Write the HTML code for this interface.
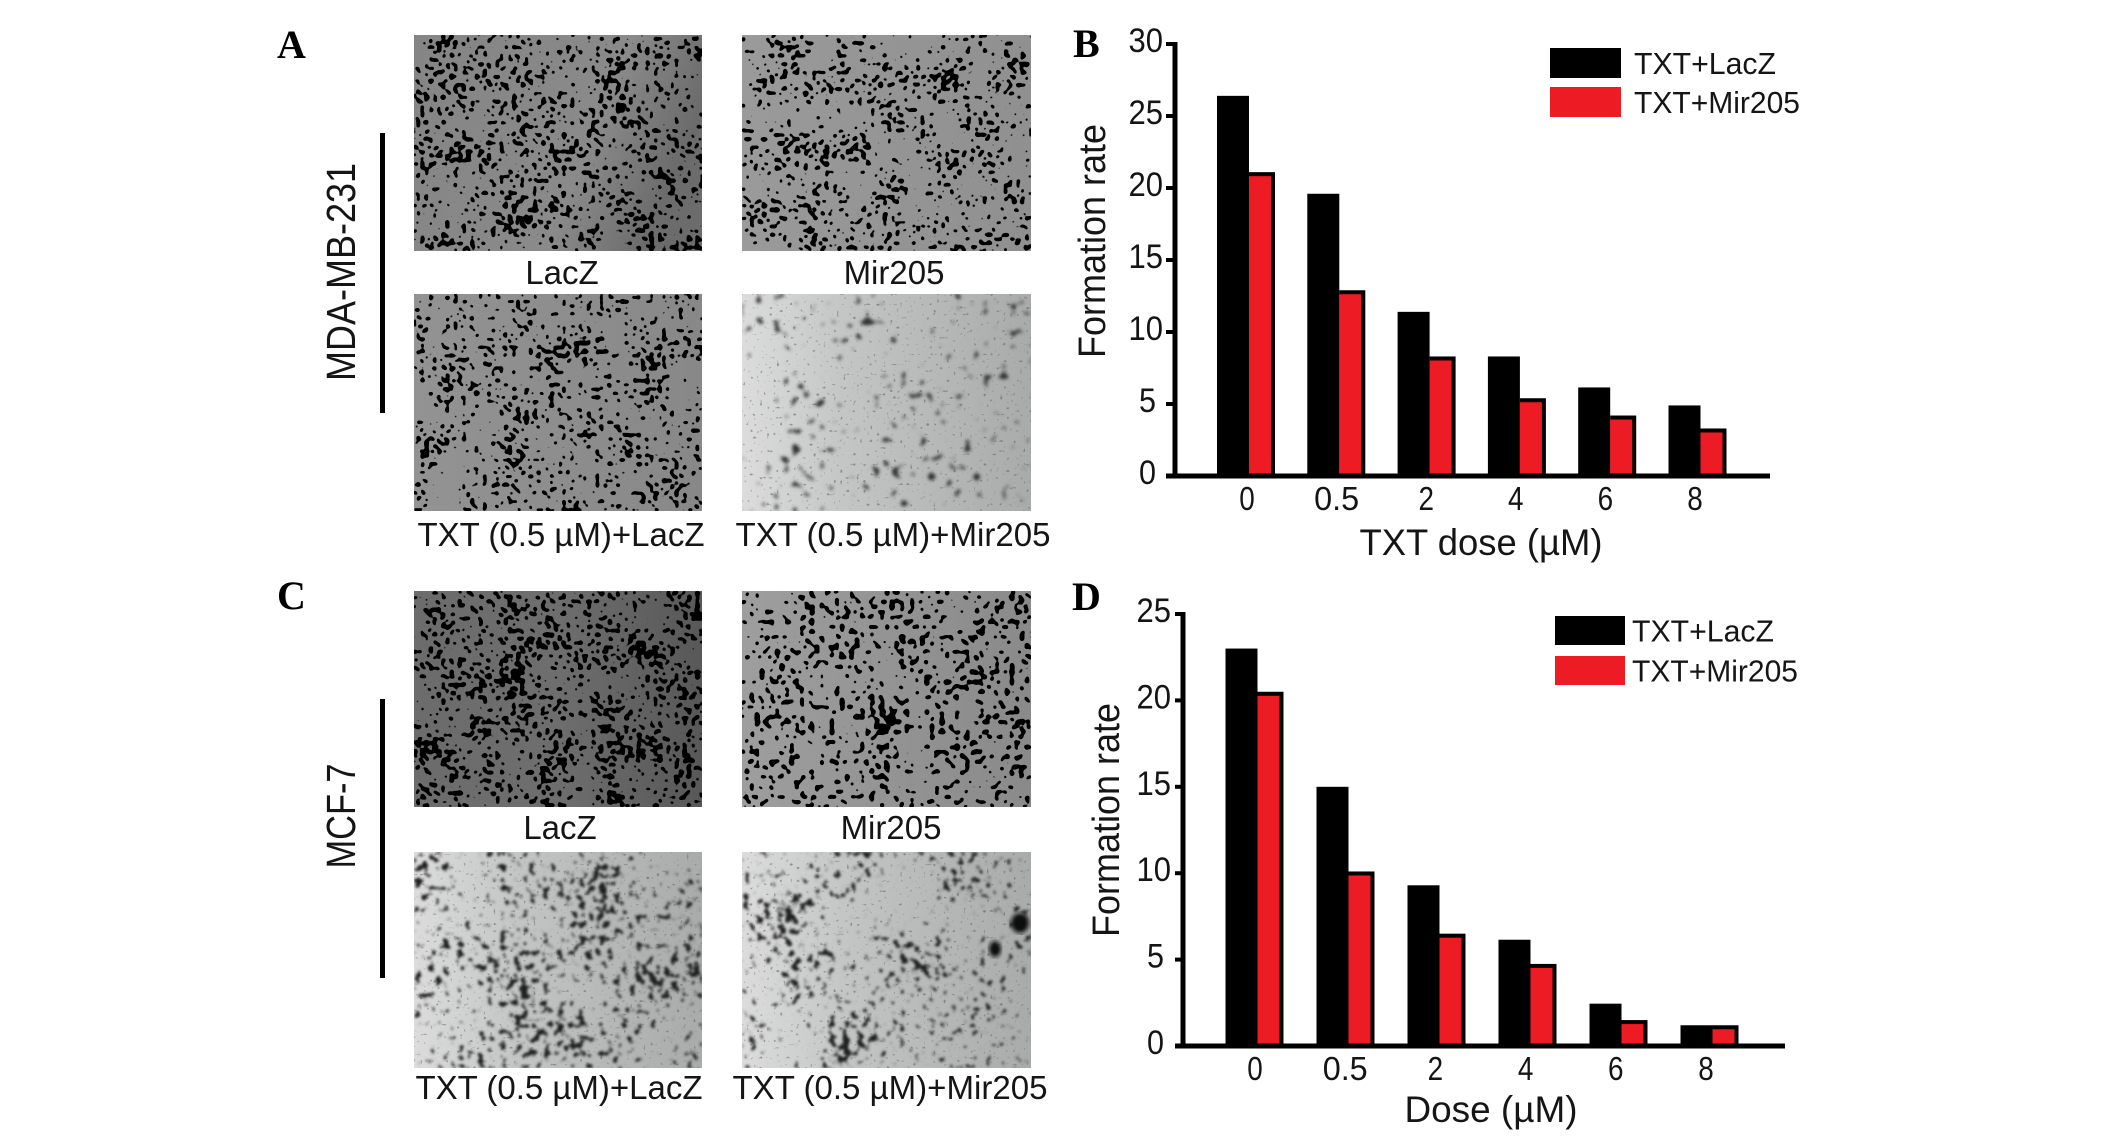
<!DOCTYPE html>
<html lang="en">
<head>
<meta charset="utf-8">
<title>Formation rate figure</title>
<style>
html,body{margin:0;padding:0;background:#fff;}
svg{display:block;}
text{font-family:"Liberation Sans",sans-serif;fill:#151515;}
.letter{font-family:"Liberation Serif",serif;font-weight:bold;font-size:40px;fill:#000;}
.cap{font-size:33px;text-anchor:middle;}
</style>
</head>
<body>
<svg id="figure" xmlns="http://www.w3.org/2000/svg" width="2126" height="1139" viewBox="0 0 2126 1139">
<defs>
  <linearGradient id="gA1" x1="0" x2="1" y1="0" y2="0.3"><stop offset="0" stop-color="#858585"/><stop offset="0.7" stop-color="#8a8a8a"/><stop offset="1" stop-color="#6c6c6c"/></linearGradient>
  <linearGradient id="gA2" x1="0" x2="1"><stop offset="0" stop-color="#9a9a9a"/><stop offset="1" stop-color="#909090"/></linearGradient>
  <linearGradient id="gA3" x1="0" x2="1"><stop offset="0" stop-color="#939393"/><stop offset="1" stop-color="#888888"/></linearGradient>
  <linearGradient id="gLight" x1="0" x2="1"><stop offset="0" stop-color="#dcdcdc"/><stop offset="0.35" stop-color="#c4c6c6"/><stop offset="1" stop-color="#a9abab"/></linearGradient>
  <linearGradient id="gC1" x1="0" x2="1"><stop offset="0" stop-color="#6c6c6c"/><stop offset="0.5" stop-color="#6e6e6e"/><stop offset="1" stop-color="#585858"/></linearGradient>
  <linearGradient id="gC2" x1="0" x2="1"><stop offset="0" stop-color="#9e9e9e"/><stop offset="1" stop-color="#8a8a8a"/></linearGradient>

  <filter id="fA1" x="0" y="0" width="100%" height="100%" color-interpolation-filters="sRGB">
    <feTurbulence type="fractalNoise" baseFrequency="0.24" numOctaves="1" seed="3"/><feColorMatrix values="1 0 0 0 0 1 0 0 0 0 1 0 0 0 0 0 0 0 0 1" result="fine"/>
    <feTurbulence type="fractalNoise" baseFrequency="0.03" numOctaves="2" seed="8"/><feColorMatrix values="1 0 0 0 0 1 0 0 0 0 1 0 0 0 0 0 0 0 0 1" result="coarse"/>
    <feComposite in="fine" in2="coarse" operator="arithmetic" k1="0" k2="0.75" k3="0.25" k4="0"/>
    <feColorMatrix values="0 0 0 0 0 0 0 0 0 0 0 0 0 0 0 22 0 0 0 -12.3"/><feGaussianBlur stdDeviation="1.3"/>
    <feColorMatrix values="0 0 0 0 0 0 0 0 0 0 0 0 0 0 0 0 0 0 10 -2.6"/>
  </filter>
  <filter id="fA2" x="0" y="0" width="100%" height="100%" color-interpolation-filters="sRGB">
    <feTurbulence type="fractalNoise" baseFrequency="0.24" numOctaves="1" seed="11"/><feColorMatrix values="1 0 0 0 0 1 0 0 0 0 1 0 0 0 0 0 0 0 0 1" result="fine"/>
    <feTurbulence type="fractalNoise" baseFrequency="0.03" numOctaves="2" seed="18"/><feColorMatrix values="1 0 0 0 0 1 0 0 0 0 1 0 0 0 0 0 0 0 0 1" result="coarse"/>
    <feComposite in="fine" in2="coarse" operator="arithmetic" k1="0" k2="0.75" k3="0.25" k4="0"/>
    <feColorMatrix values="0 0 0 0 0 0 0 0 0 0 0 0 0 0 0 22 0 0 0 -12.6"/><feGaussianBlur stdDeviation="1.3"/>
    <feColorMatrix values="0 0 0 0 0 0 0 0 0 0 0 0 0 0 0 0 0 0 10 -2.6"/>
  </filter>
  <filter id="fA3" x="0" y="0" width="100%" height="100%" color-interpolation-filters="sRGB">
    <feTurbulence type="fractalNoise" baseFrequency="0.24" numOctaves="1" seed="23"/><feColorMatrix values="1 0 0 0 0 1 0 0 0 0 1 0 0 0 0 0 0 0 0 1" result="fine"/>
    <feTurbulence type="fractalNoise" baseFrequency="0.03" numOctaves="2" seed="28"/><feColorMatrix values="1 0 0 0 0 1 0 0 0 0 1 0 0 0 0 0 0 0 0 1" result="coarse"/>
    <feComposite in="fine" in2="coarse" operator="arithmetic" k1="0" k2="0.75" k3="0.25" k4="0"/>
    <feColorMatrix values="0 0 0 0 0 0 0 0 0 0 0 0 0 0 0 22 0 0 0 -12.7"/><feGaussianBlur stdDeviation="1.3"/>
    <feColorMatrix values="0 0 0 0 0 0 0 0 0 0 0 0 0 0 0 0 0 0 10 -2.6"/>
  </filter>
  <filter id="fC1" x="0" y="0" width="100%" height="100%" color-interpolation-filters="sRGB">
    <feTurbulence type="fractalNoise" baseFrequency="0.24" numOctaves="1" seed="31"/><feColorMatrix values="1 0 0 0 0 1 0 0 0 0 1 0 0 0 0 0 0 0 0 1" result="fine"/>
    <feTurbulence type="fractalNoise" baseFrequency="0.03" numOctaves="2" seed="38"/><feColorMatrix values="1 0 0 0 0 1 0 0 0 0 1 0 0 0 0 0 0 0 0 1" result="coarse"/>
    <feComposite in="fine" in2="coarse" operator="arithmetic" k1="0" k2="0.75" k3="0.25" k4="0"/>
    <feColorMatrix values="0 0 0 0 0 0 0 0 0 0 0 0 0 0 0 22 0 0 0 -12.1"/><feGaussianBlur stdDeviation="1.3"/>
    <feColorMatrix values="0 0 0 0 0 0 0 0 0 0 0 0 0 0 0 0 0 0 10 -2.6"/>
  </filter>
  <filter id="fC2" x="0" y="0" width="100%" height="100%" color-interpolation-filters="sRGB">
    <feTurbulence type="fractalNoise" baseFrequency="0.2" numOctaves="1" seed="41"/><feColorMatrix values="1 0 0 0 0 1 0 0 0 0 1 0 0 0 0 0 0 0 0 1" result="fine"/>
    <feTurbulence type="fractalNoise" baseFrequency="0.03" numOctaves="2" seed="48"/><feColorMatrix values="1 0 0 0 0 1 0 0 0 0 1 0 0 0 0 0 0 0 0 1" result="coarse"/>
    <feComposite in="fine" in2="coarse" operator="arithmetic" k1="0" k2="0.75" k3="0.25" k4="0"/>
    <feColorMatrix values="0 0 0 0 0 0 0 0 0 0 0 0 0 0 0 22 0 0 0 -12.5"/><feGaussianBlur stdDeviation="1.4"/>
    <feColorMatrix values="0 0 0 0 0 0 0 0 0 0 0 0 0 0 0 0 0 0 10 -2.6"/>
  </filter>
  <filter id="fFuzzA" x="0" y="0" width="100%" height="100%" color-interpolation-filters="sRGB">
    <feTurbulence type="fractalNoise" baseFrequency="0.11" numOctaves="1" seed="7"/><feColorMatrix values="1 0 0 0 0 1 0 0 0 0 1 0 0 0 0 0 0 0 0 1" result="fine"/>
    <feTurbulence type="fractalNoise" baseFrequency="0.018" numOctaves="2" seed="9"/><feColorMatrix values="1 0 0 0 0 1 0 0 0 0 1 0 0 0 0 0 0 0 0 1" result="coarse"/>
    <feComposite in="fine" in2="coarse" operator="arithmetic" k1="0" k2="0.75" k3="0.25" k4="0"/>
    <feColorMatrix values="0 0 0 0 0.2 0 0 0 0 0.2 0 0 0 0 0.2 14 0 0 0 -8.6"/><feGaussianBlur stdDeviation="1.6"/>
  </filter>
  <filter id="fFuzzC" x="0" y="0" width="100%" height="100%" color-interpolation-filters="sRGB">
    <feTurbulence type="fractalNoise" baseFrequency="0.14" numOctaves="2" seed="17"/><feColorMatrix values="1 0 0 0 0 1 0 0 0 0 1 0 0 0 0 0 0 0 0 1" result="fine"/>
    <feTurbulence type="fractalNoise" baseFrequency="0.016" numOctaves="2" seed="4"/><feColorMatrix values="1 0 0 0 0 1 0 0 0 0 1 0 0 0 0 0 0 0 0 1" result="coarse"/>
    <feComposite in="fine" in2="coarse" operator="arithmetic" k1="0" k2="0.65" k3="0.35" k4="0"/>
    <feColorMatrix values="0 0 0 0 0.12 0 0 0 0 0.12 0 0 0 0 0.12 14 0 0 0 -8.0"/><feGaussianBlur stdDeviation="1.2"/>
  </filter>
  <filter id="fFuzzD" x="0" y="0" width="100%" height="100%" color-interpolation-filters="sRGB">
    <feTurbulence type="fractalNoise" baseFrequency="0.14" numOctaves="2" seed="29"/><feColorMatrix values="1 0 0 0 0 1 0 0 0 0 1 0 0 0 0 0 0 0 0 1" result="fine"/>
    <feTurbulence type="fractalNoise" baseFrequency="0.016" numOctaves="2" seed="14"/><feColorMatrix values="1 0 0 0 0 1 0 0 0 0 1 0 0 0 0 0 0 0 0 1" result="coarse"/>
    <feComposite in="fine" in2="coarse" operator="arithmetic" k1="0" k2="0.65" k3="0.35" k4="0"/>
    <feColorMatrix values="0 0 0 0 0.12 0 0 0 0 0.12 0 0 0 0 0.12 14 0 0 0 -8.2"/><feGaussianBlur stdDeviation="1.2"/>
  </filter>
  <filter id="fSpeck" x="0" y="0" width="100%" height="100%" color-interpolation-filters="sRGB"><feTurbulence type="fractalNoise" baseFrequency="0.3" numOctaves="1" seed="5"/><feColorMatrix values="0 0 0 0 0.3 0 0 0 0 0.3 0 0 0 0 0.3 12 0 0 0 -8"/></filter>
  <filter id="soft"><feGaussianBlur stdDeviation="2"/></filter>
</defs>

<text class="letter" x="277" y="58">A</text>
<text class="letter" x="1073" y="57">B</text>
<text class="letter" x="277" y="609">C</text>
<text class="letter" x="1072" y="610">D</text>

<rect x="380" y="133" width="5" height="280" fill="#000"/>
<text transform="translate(355,272) rotate(-90)" text-anchor="middle" font-size="41" textLength="218" lengthAdjust="spacingAndGlyphs">MDA-MB-231</text>
<rect x="380" y="699" width="5" height="279" fill="#000"/>
<text transform="translate(355,816) rotate(-90)" text-anchor="middle" font-size="41" textLength="105" lengthAdjust="spacingAndGlyphs">MCF-7</text>

<g>
  <rect x="414" y="35" width="288" height="216" fill="url(#gA1)"/>
  <rect x="414" y="35" width="288" height="216" filter="url(#fA1)"/>
</g>
<g>
  <rect x="742" y="35" width="289" height="216" fill="url(#gA2)"/>
  <rect x="742" y="35" width="289" height="216" filter="url(#fA2)"/>
</g>
<g>
  <rect x="414" y="294" width="288" height="217" fill="url(#gA3)"/>
  <rect x="414" y="294" width="288" height="217" filter="url(#fA3)"/>
</g>
<g>
  <rect x="742" y="294" width="289" height="217" fill="url(#gLight)"/>
  <rect x="742" y="294" width="289" height="217" filter="url(#fFuzzA)"/>
  <rect x="742" y="294" width="289" height="217" filter="url(#fSpeck)" opacity="0.45"/>
</g>
<g>
  <rect x="414" y="591" width="288" height="216" fill="url(#gC1)"/>
  <rect x="414" y="591" width="288" height="216" filter="url(#fC1)"/>
</g>
<g>
  <rect x="742" y="591" width="289" height="216" fill="url(#gC2)"/>
  <rect x="742" y="591" width="289" height="216" filter="url(#fC2)"/>
</g>
<g>
  <rect x="414" y="852" width="288" height="216" fill="url(#gLight)"/>
  <rect x="414" y="852" width="288" height="216" filter="url(#fFuzzC)"/>
  <rect x="414" y="852" width="288" height="216" filter="url(#fSpeck)" opacity="0.45"/>
</g>
<g>
  <rect x="742" y="852" width="289" height="216" fill="url(#gLight)"/>
  <rect x="742" y="852" width="289" height="216" filter="url(#fFuzzD)"/>
  <rect x="742" y="852" width="289" height="216" filter="url(#fSpeck)" opacity="0.45"/>
  <ellipse cx="1020" cy="923" rx="9" ry="10" fill="#111" filter="url(#soft)"/>
  <ellipse cx="995" cy="949" rx="6" ry="8" fill="#111" filter="url(#soft)"/>
</g>

<text class="cap" x="562" y="284">LacZ</text>
<text class="cap" x="894" y="284">Mir205</text>
<text class="cap" x="561" y="546" textLength="287" lengthAdjust="spacingAndGlyphs">TXT (0.5 µM)+LacZ</text>
<text class="cap" x="893" y="546" textLength="315" lengthAdjust="spacingAndGlyphs">TXT (0.5 µM)+Mir205</text>
<text class="cap" x="560" y="839">LacZ</text>
<text class="cap" x="891" y="839">Mir205</text>
<text class="cap" x="559" y="1099" textLength="287" lengthAdjust="spacingAndGlyphs">TXT (0.5 µM)+LacZ</text>
<text class="cap" x="890" y="1099" textLength="315" lengthAdjust="spacingAndGlyphs">TXT (0.5 µM)+Mir205</text>

<g id="chart-b"></g>
<g id="chart-d"></g>
</svg>

<script>
const categories = ["0", "0.5", "2", "4", "6", "8"];
const seriesNames = ["TXT+LacZ", "TXT+Mir205"];
const chartBLacz = [26.4, 19.6, 11.4, 8.3, 6.15, 4.9];
const chartBMir205 = [21.1, 12.9, 8.3, 5.4, 4.2, 3.3];
const chartBTicks = [0, 5, 10, 15, 20, 25, 30];
const chartDLacz = [23.0, 15.0, 9.3, 6.15, 2.45, 1.2];
const chartDMir205 = [20.5, 10.1, 6.5, 4.75, 1.5, 1.2];
const chartDTicks = [0, 5, 10, 15, 20, 25];

const NS = "http://www.w3.org/2000/svg";
function make(parent, tag, attrs, text) {
  const el = document.createElementNS(NS, tag);
  for (const k in attrs) el.setAttribute(k, attrs[k]);
  if (text !== undefined) el.textContent = text;
  parent.appendChild(el);
  return el;
}

function drawChart(root, c, lacz, mir, ticks) {
  const yScale = v => c.y0 - (v / ticks[ticks.length - 1]) * (c.y0 - c.yTop);
  const barLeft = i => c.barX + i * c.step;
  const labelX = i => c.labelX + i * c.labelStep;

  categories.forEach((cat, i) => {
    const x = barLeft(i);
    const yBlack = yScale(lacz[i]);
    const yRed = yScale(mir[i]);
    const blackBar = make(root, "rect", {x: x, y: yBlack, width: 32, height: c.y0 - yBlack, fill: "#000"});
    
    
    const redEdge = make(root, "rect", {x: x + 32, y: yRed, width: 26, height: c.y0 - yRed, fill: "#000"});
    
    
    const redBar = make(root, "rect", {x: x + 32, y: yRed + 4, width: 22, height: Math.max(0, c.y0 - yRed - 4), fill: "#ed1c24"});
    
    
    const xLabel = make(root, "text", {x: labelX(i), y: c.xLabelY, "text-anchor": "middle", "font-size": 33, textLength: cat.length * 15.5 - (cat.length > 1 ? 1.5 : 0), lengthAdjust: "spacingAndGlyphs"}, cat);
    
    
  });

  const yAxis = make(root, "rect", {x: c.axisX - 2.5, y: c.yTop - 2, width: 5, height: c.y0 - c.yTop + 4, fill: "#000"});
  
  
  const xAxis = make(root, "rect", {x: c.axisLeft, y: c.y0 - 2.5, width: c.axisRight - c.axisLeft, height: 5, fill: "#000"});
  
  

  ticks.forEach(t => {
    const y = yScale(t);
    const tick = make(root, "rect", {x: c.axisLeft, y: y - 2, width: c.axisX - c.axisLeft, height: 4, fill: "#000"});
    
    
    const two = t >= 10;
    const yLabel = make(root, "text", {x: two ? c.tickLabelX : c.tickLabelX - 7, y: y + 8, "text-anchor": "end", "font-size": 34, textLength: two ? 34.5 : 17, lengthAdjust: "spacingAndGlyphs"}, String(t));
    
    
  });

  const yTitle = make(root, "text", {transform: "translate(" + c.yTitleX + "," + c.yTitleY + ") rotate(-90)", "text-anchor": "middle", "font-size": 38, textLength: 234, lengthAdjust: "spacingAndGlyphs"}, "Formation rate");
  
  
  const xTitle = make(root, "text", {x: c.xTitleX, y: c.xTitleY, "text-anchor": "middle", "font-size": 37, textLength: c.xTitleW, lengthAdjust: "spacingAndGlyphs"}, c.xTitle);
  
  

  const swatch1 = make(root, "rect", {x: c.legX, y: c.legY1, width: c.legW, height: c.legH, fill: "#000"});
  
  
  const swatch2 = make(root, "rect", {x: c.legX, y: c.legY2, width: c.legW, height: c.legH, fill: "#ed1c24"});
  
  
  const legend1 = make(root, "text", {x: c.legTextX, y: c.legY1 + c.legH / 2 + 11, "font-size": 31, textLength: 142, lengthAdjust: "spacingAndGlyphs"}, seriesNames[0]);
  
  
  const legend2 = make(root, "text", {x: c.legTextX, y: c.legY2 + c.legH / 2 + 11, "font-size": 31, textLength: 166, lengthAdjust: "spacingAndGlyphs"}, seriesNames[1]);
  
  
}

drawChart(document.getElementById("chart-b"), {
  y0: 476, yTop: 44, axisX: 1175, axisLeft: 1166, axisRight: 1770,
  barX: 1217, step: 90.3, labelX: 1247, labelStep: 89.6,
  xLabelY: 510, tickLabelX: 1163,
  yTitleX: 1105, yTitleY: 241, xTitle: "TXT dose (µM)", xTitleX: 1481, xTitleY: 555, xTitleW: 243,
  legX: 1550, legY1: 48, legY2: 87, legW: 71, legH: 30, legTextX: 1634
}, chartBLacz, chartBMir205, chartBTicks);

drawChart(document.getElementById("chart-d"), {
  y0: 1046, yTop: 614, axisX: 1183, axisLeft: 1175, axisRight: 1785,
  barX: 1225.5, step: 91, labelX: 1255, labelStep: 90.2,
  xLabelY: 1080, tickLabelX: 1171,
  yTitleX: 1119, yTitleY: 820, xTitle: "Dose (µM)", xTitleX: 1491, xTitleY: 1122, xTitleW: 173,
  legX: 1555, legY1: 616, legY2: 656, legW: 70, legH: 29, legTextX: 1632
}, chartDLacz, chartDMir205, chartDTicks);
</script>
</body>
</html>
